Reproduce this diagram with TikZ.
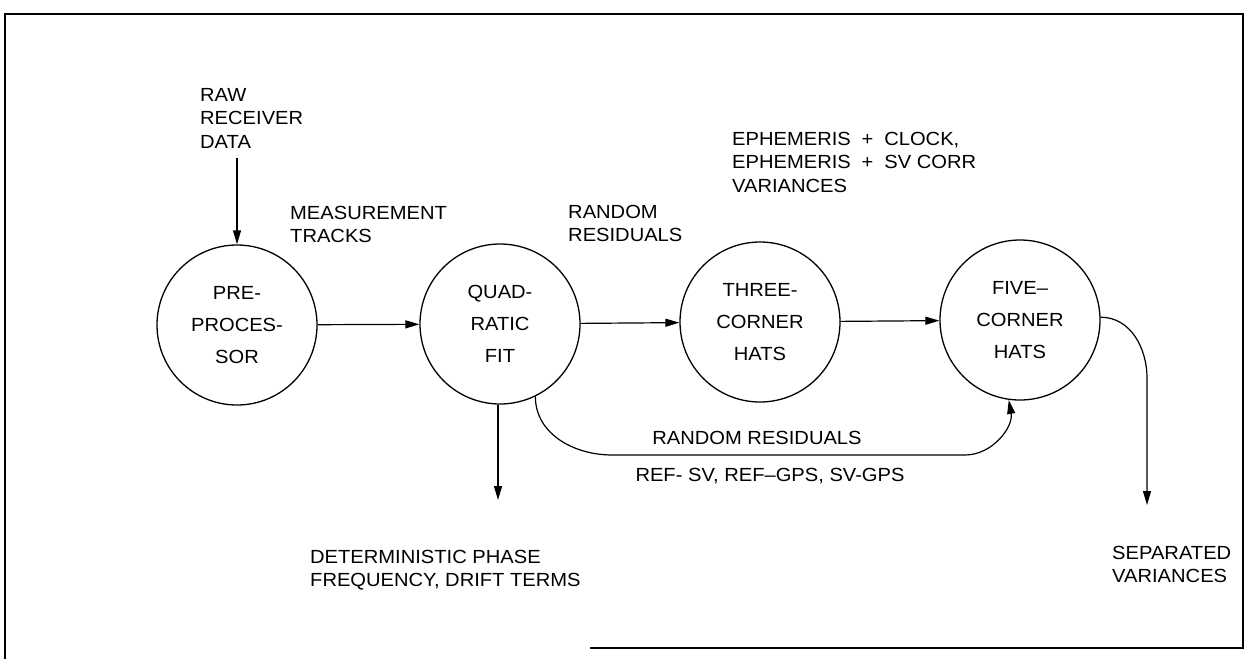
\documentclass[tikz,border=0pt]{standalone}
\usepackage{fontspec}
\setmainfont{Liberation Sans}[FakeStretch=1.06]
\usetikzlibrary{arrows.meta}
\begin{document}
\begin{tikzpicture}[x=1pt,y=-1pt,
  proc/.style={draw, line width=1.3pt, circle, minimum size=160pt, inner sep=0pt, align=center, font=\fontsize{19}{32}\selectfont},
  lbl/.style={inner sep=0pt, anchor=north west, align=left, font=\fontsize{19}{23.5}\selectfont},
  clbl/.style={inner sep=0pt, anchor=center, font=\fontsize{19}{23.5}\selectfont},
  flow/.style={line width=1.2pt, -{Triangle[length=14pt,width=8pt]}},
]
\useasboundingbox (0,0) rectangle (1246,659);
\draw[line width=1.3pt] (590,648) -- (1243,648) -- (1243,14) -- (5,14) -- (5,659);

\node[proc] (pre)   at (237,325) {PRE-\\PROCES-\\SOR};
\node[proc] (quad)  at (500,324) {QUAD-\\RATIC\\FIT};
\node[proc] (three) at (760,322) {THREE-\\CORNER\\HATS};
\node[proc] (five)  at (1020,320) {FIVE--\\CORNER\\HATS};

\node[lbl] (raw)  at (200,88)  {RAW\\RECEIVER\\DATA};
\node[lbl] (meas) at (290,206) {MEASUREMENT\\TRACKS};
\node[lbl] (rr1)  at (568,205) {RANDOM\\RESIDUALS};
\node[lbl] (eph)  at (732,132) {EPHEMERIS \;+\; CLOCK,\\EPHEMERIS \;+\; SV CORR\\VARIANCES};
\node[clbl] (rr2) at (757,438) {RANDOM RESIDUALS};
\node[clbl] (ref) at (770,476) {REF- SV, REF--GPS, SV-GPS};
\node[lbl] (det)  at (310,550) {DETERMINISTIC PHASE\\FREQUENCY, DRIFT TERMS};
\node[lbl] (sep)  at (1112,546) {SEPARATED\\VARIANCES};

\coordinate (rawend) at (237,158);
\coordinate (detend) at (498,500);
\coordinate (sepend) at (1147,505);

\draw[flow] (rawend) -- (pre);
\draw[flow] (pre) -- (quad);
\draw[flow] (quad) -- (three);
\draw[flow] (three) -- (five);
\draw[flow] (quad.south -| detend) -- (detend);
\draw[flow] (quad.-64) to[out=-90,in=180] (612,455) -- (965,455) to[out=0,in=-80] (five.-98);
\draw[flow] (five.2) to[out=0,in=90] (1147,378) -- (sepend);
\end{tikzpicture}
\end{document}
